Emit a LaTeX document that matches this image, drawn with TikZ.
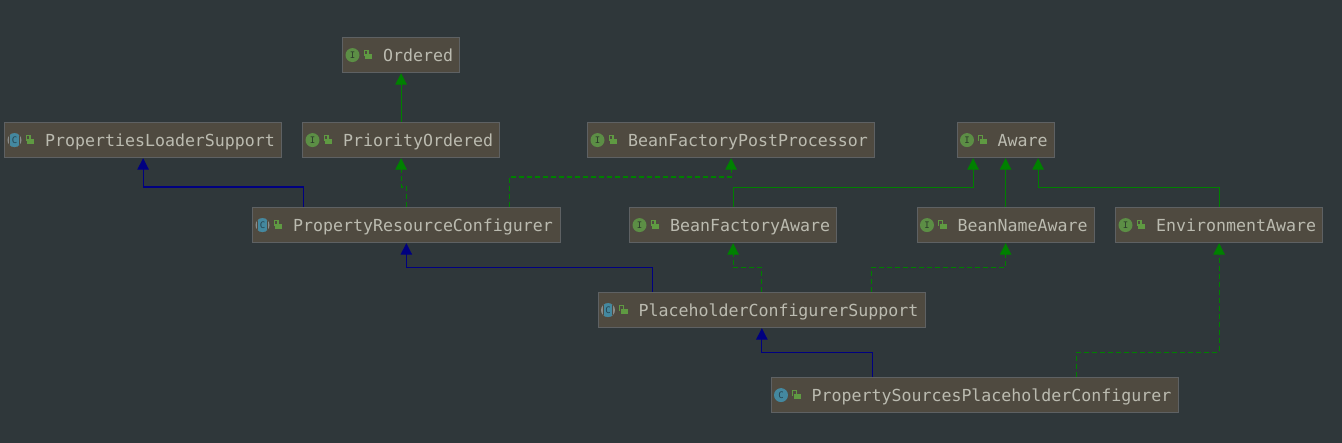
\documentclass[tikz,border=0pt]{standalone}
\usepackage{fontspec}
\setmonofont{DejaVu Sans Mono}
\usetikzlibrary{arrows.meta,calc}
\definecolor{bgc}{HTML}{2F373A}
\definecolor{boxfill}{HTML}{4F4A40}
\definecolor{boxline}{HTML}{5E6163}
\definecolor{txt}{HTML}{BBBBB0}
\definecolor{igreen}{HTML}{5C8E45}
\definecolor{idark}{HTML}{2B3A2B}
\definecolor{cblue}{HTML}{44889F}
\definecolor{cdark}{HTML}{24414E}
\definecolor{agray}{HTML}{8A8C8A}
\definecolor{lockc}{HTML}{5F9A42}
\definecolor{gedge}{HTML}{008000}
\definecolor{bedge}{HTML}{000080}
\tikzset{
  x=1pt,y=-1pt,
  umlbox/.style={draw=boxline,fill=boxfill,line width=1.2pt,inner sep=0pt,anchor=north west,text=txt,
    font=\ttfamily\fontsize{16.6}{18}\selectfont,text height=24pt,text depth=11pt},
  solidtip/.style={-{Triangle[width=11.5pt,length=11.5pt,fill=#1]}},
  impl/.style={line width=1.1pt,draw=gedge,dash pattern=on 5pt off 3pt,solidtip=gedge},
  ext/.style={line width=1.1pt,draw=gedge,solidtip=gedge},
  inh/.style={line width=1.1pt,draw=bedge,solidtip=bedge},
  badge/.style={inner sep=0pt,font=\ttfamily\fontsize{9}{9}\selectfont},
}
\newcommand{\lockat}[1]{%
  \fill[lockc] ([xshift=23pt,yshift=1.5pt]#1.west) rectangle ([xshift=30pt,yshift=-4pt]#1.west);
  \draw[lockc,line width=1.1pt] ([xshift=22.3pt,yshift=-0.5pt]#1.west) -- ([xshift=22.3pt,yshift=4.3pt]#1.west)
     -- ([xshift=26pt,yshift=4.3pt]#1.west) -- ([xshift=26pt,yshift=1.5pt]#1.west);
}
% name, x0, y0, width, text
\newcommand{\umlnode}[5]{%
  \node[umlbox] (#1) at (#2-0.5,#3-0.5) {\makebox[#4pt][l]{\hspace{40.5pt}#5}};
}
\newcommand{\ifacebadge}[1]{%
  \fill[igreen] ([xshift=10.5pt]#1.west) circle[radius=7pt];
  \node[badge,text=idark] at ([xshift=10.5pt]#1.west) {I};
  \lockat{#1}
}
\newcommand{\classbadge}[1]{%
  \fill[cblue] ([xshift=10.5pt]#1.west) circle[radius=7pt];
  \node[badge,text=cdark] at ([xshift=10.5pt]#1.west) {C};
  \lockat{#1}
}
\newcommand{\absbadge}[1]{%
  \fill[agray] ([xshift=10.5pt]#1.west) circle[radius=7pt];
  \begin{scope}
    \clip ([xshift=10.5pt]#1.west) circle[radius=7pt];
    \fill[boxfill] ([xshift=5.2pt,yshift=-7pt]#1.west) rectangle ([xshift=15.8pt,yshift=7pt]#1.west);
    \fill[cblue] ([xshift=6.2pt,yshift=-7pt]#1.west) rectangle ([xshift=14.8pt,yshift=7pt]#1.west);
  \end{scope}
  \node[badge,text=cdark] at ([xshift=10.5pt]#1.west) {C};
  \lockat{#1}
}
\begin{document}
\begin{tikzpicture}
\fill[bgc] (0,0) rectangle (1342,443);
\useasboundingbox (0,0) rectangle (1342,443);

\umlnode{ord}{342.5}{37.5}{117}{Ordered}
\umlnode{pri}{302.5}{122.5}{197}{PriorityOrdered}
\umlnode{pls}{4.5}{122.5}{277}{PropertiesLoaderSupport}
\umlnode{bfpp}{587.5}{122.5}{287}{BeanFactoryPostProcessor}
\umlnode{aw}{957}{122.5}{97}{Aware}
\umlnode{prc}{252.5}{207.5}{307.5}{PropertyResourceConfigurer}
\umlnode{bfa}{629.5}{207.5}{207}{BeanFactoryAware}
\umlnode{bna}{917}{207.5}{177}{BeanNameAware}
\umlnode{env}{1115.5}{207.5}{207}{EnvironmentAware}
\umlnode{pcs}{598}{292.5}{327.5}{PlaceholderConfigurerSupport}
\umlnode{psp}{771}{377.5}{407.5}{PropertySourcesPlaceholderConfigurer}

\ifacebadge{ord}\ifacebadge{pri}\ifacebadge{bfpp}\ifacebadge{aw}
\ifacebadge{bfa}\ifacebadge{bna}\ifacebadge{env}
\absbadge{pls}\absbadge{prc}\absbadge{pcs}
\classbadge{psp}

% extends, navy
\draw[inh] ([xshift=-102.5pt]prc.north) -- ++(0,-20) -| (pls.south);
\draw[inh] ([xshift=-109.5pt]pcs.north) -- ++(0,-24.5) -| (prc.south);
\draw[inh] ([xshift=-102.5pt]psp.north) -- ++(0,-24.5) -| (pcs.south);
% extends, green
\draw[ext] (pri.north) -- (ord.south);
\draw[ext] (bfa.north) -- ++(0,-19.5) -| ([xshift=-32.5pt]aw.south);
\draw[ext] (bna.north) -- (aw.south);
\draw[ext] (env.north) -- ++(0,-19.5) -| ([xshift=32.5pt]aw.south);
% implements, dashed
\draw[impl] ([xshift=0.5pt]prc.north) -- ++(0,-20) -| (pri.south);
\draw[impl] ([xshift=103pt]prc.north) -- ++(0,-30) -| (bfpp.south);
\draw[impl] (pcs.north) -- ++(0,-24.5) -| (bfa.south);
\draw[impl] ([xshift=109.5pt]pcs.north) -- ++(0,-24.5) -| (bna.south);
\draw[impl] ([xshift=102pt]psp.north) -- ++(0,-24.5) -| (env.south);
\end{tikzpicture}
\end{document}
